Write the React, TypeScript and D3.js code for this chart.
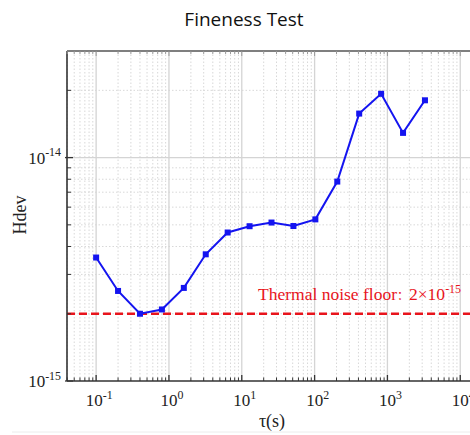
import * as d3 from 'd3';

// Hadamard deviation vs averaging time
const tauValues = [0.1, 0.2, 0.4, 0.8, 1.6, 3.2, 6.4, 12.8, 25.6, 51.2, 102.4, 204.8, 409.6, 819.2, 1638.4, 3276.8];
const hdevValues = [
  3.57e-15, 2.53e-15, 2.0e-15, 2.09e-15, 2.61e-15, 3.69e-15, 4.62e-15, 4.93e-15,
  5.12e-15, 4.94e-15, 5.29e-15, 7.81e-15, 1.574e-14, 1.93e-14, 1.29e-14, 1.805e-14
];
const thermalFloor = 2e-15;
const xDecades = [-1, 0, 1, 2, 3, 4];
const yDecades = [-15, -14];

const W = 470;
const H = 435;
const margin = { top: 51, right: -7, bottom: 54, left: 67 };

const serif = '"Liberation Serif", "DejaVu Serif", serif';

const Pow10 = ({ x, y, exp, anchor, size }: { x: number; y: number; exp: number; anchor: string; size: number }) => (
  <text x={x} y={y} textAnchor={anchor} fontFamily={serif} fontSize={size} fill="#222">
    10
    <tspan dy={-size * 0.42} fontSize={size * 0.7}>
      {exp}
    </tspan>
  </text>
);

export default function App() {
  const innerW = W - margin.left - margin.right;
  const innerH = H - margin.top - margin.bottom;

  const x = d3.scaleLog().domain([Math.pow(10, -1.4), Math.pow(10, 4.23)]).range([margin.left, margin.left + innerW]);
  const y = d3.scaleLog().domain([1e-15, 3e-14]).range([margin.top + innerH, margin.top]);

  const [x0, x1] = x.domain();
  const xMinor: number[] = [];
  for (let e = -2; e <= 4; e++) for (let m = 2; m <= 9; m++) {
    const v = m * Math.pow(10, e);
    if (v > x0 && v < x1) xMinor.push(v);
  }
  const yMinor: number[] = [];
  for (let e = -15; e <= -14; e++) for (let m = 2; m <= 9; m++) {
    const v = m * Math.pow(10, e);
    if (v > 1e-15 && v < 3e-14) yMinor.push(v);
  }

  const line = d3
    .line<number>()
    .x((_, i) => x(tauValues[i]))
    .y(d => y(d));

  const left = margin.left;
  const right = margin.left + innerW;
  const top = margin.top;
  const bottom = margin.top + innerH;
  const axisColor = '#333';

  return (
    <svg width={W} height={H} style={{ position: 'absolute', left: 0, top: 0, background: '#fff' }}>
      <text x={244} y={26} textAnchor="middle" fontFamily='"Open Sans", "Noto Sans", sans-serif' fontSize={19} fill="#111">
        Fineness Test
      </text>

      {/* grid */}
      <g>
        {xMinor.map(v => (
          <line key={'xm' + v} x1={x(v)} x2={x(v)} y1={top} y2={bottom} stroke="#d8d8d8" strokeWidth={1} strokeDasharray="1.5 2" />
        ))}
        {yMinor.map(v => (
          <line key={'ym' + v} x1={left} x2={right} y1={y(v)} y2={y(v)} stroke="#d8d8d8" strokeWidth={1} strokeDasharray="1.5 2" />
        ))}
        {xDecades.map(e => (
          <line key={'xg' + e} x1={x(Math.pow(10, e))} x2={x(Math.pow(10, e))} y1={top} y2={bottom} stroke="#d4d4d4" strokeWidth={1.3} />
        ))}
        <line x1={left} x2={right} y1={y(1e-14)} y2={y(1e-14)} stroke="#d4d4d4" strokeWidth={1.3} />
      </g>

      {/* thermal noise floor */}
      <line x1={left} x2={right} y1={y(thermalFloor)} y2={y(thermalFloor)} stroke="#e8141c" strokeWidth={2.5} strokeDasharray="8 4" />
      <text x={258} y={300} fontFamily={serif} fontSize={17.5} fill="#e8141c">
        Thermal noise floor
        <tspan fontFamily='"Noto Sans CJK SC", sans-serif' fontSize={12}>：</tspan>
        2×10
        <tspan dy={-7} fontSize={12}>-15</tspan>
      </text>

      {/* data */}
      <path d={line(hdevValues) || ''} fill="none" stroke="#1414f0" strokeWidth={2} />
      {hdevValues.map((v, i) => (
        <rect key={i} x={x(tauValues[i]) - 3} y={y(v) - 3} width={6} height={6} fill="#1414f0" />
      ))}

      {/* axes */}
      <g stroke={axisColor}>
        <line x1={left} x2={left} y1={top} y2={bottom} strokeWidth={1.6} />
        <line x1={left} x2={right} y1={bottom} y2={bottom} strokeWidth={1.6} />
        <line x1={left} x2={right} y1={top} y2={top} strokeWidth={1.6} stroke="#555" />
        {xDecades.map(e => (
          <g key={'xt' + e}>
            <line x1={x(Math.pow(10, e))} x2={x(Math.pow(10, e))} y1={bottom} y2={bottom - 6} strokeWidth={1.3} />
            <line x1={x(Math.pow(10, e))} x2={x(Math.pow(10, e))} y1={top} y2={top + 5} strokeWidth={1} stroke="#999" />
          </g>
        ))}
        {xMinor.map(v => (
          <g key={'xmt' + v}>
            <line x1={x(v)} x2={x(v)} y1={bottom} y2={bottom - 3.5} strokeWidth={1} />
            <line x1={x(v)} x2={x(v)} y1={top} y2={top + 3} strokeWidth={1} stroke="#999" />
          </g>
        ))}
        {yDecades.map(e => (
          <line key={'yt' + e} x1={left - 2} x2={left + 6} y1={y(Math.pow(10, e))} y2={y(Math.pow(10, e))} strokeWidth={1.3} />
        ))}
        {yMinor.map(v => (
          <line key={'ymt' + v} x1={left} x2={left + 4} y1={y(v)} y2={y(v)} strokeWidth={1} />
        ))}
      </g>

      {/* tick labels */}
      {xDecades.map(e => (
        <Pow10 key={'xl' + e} x={x(Math.pow(10, e)) + 3} y={bottom + 25} exp={e} anchor="middle" size={17} />
      ))}
      {yDecades.map(e => (
        <Pow10 key={'yl' + e} x={left - 6} y={y(Math.pow(10, e)) + 6} exp={e} anchor="end" size={17} />
      ))}

      {/* axis titles */}
      <text
        transform={`translate(26,${215}) rotate(-90)`}
        textAnchor="middle"
        fontFamily={serif}
        fontSize={18}
        fill="#222"
      >
        Hdev
      </text>
      <text x={272} y={427} textAnchor="middle" fontFamily={serif} fontSize={18} fill="#222">
        τ(s)
      </text>

      <line x1={12} x2={W} y1={432} y2={432} stroke="#ececec" strokeWidth={1} />
    </svg>
  );
}
